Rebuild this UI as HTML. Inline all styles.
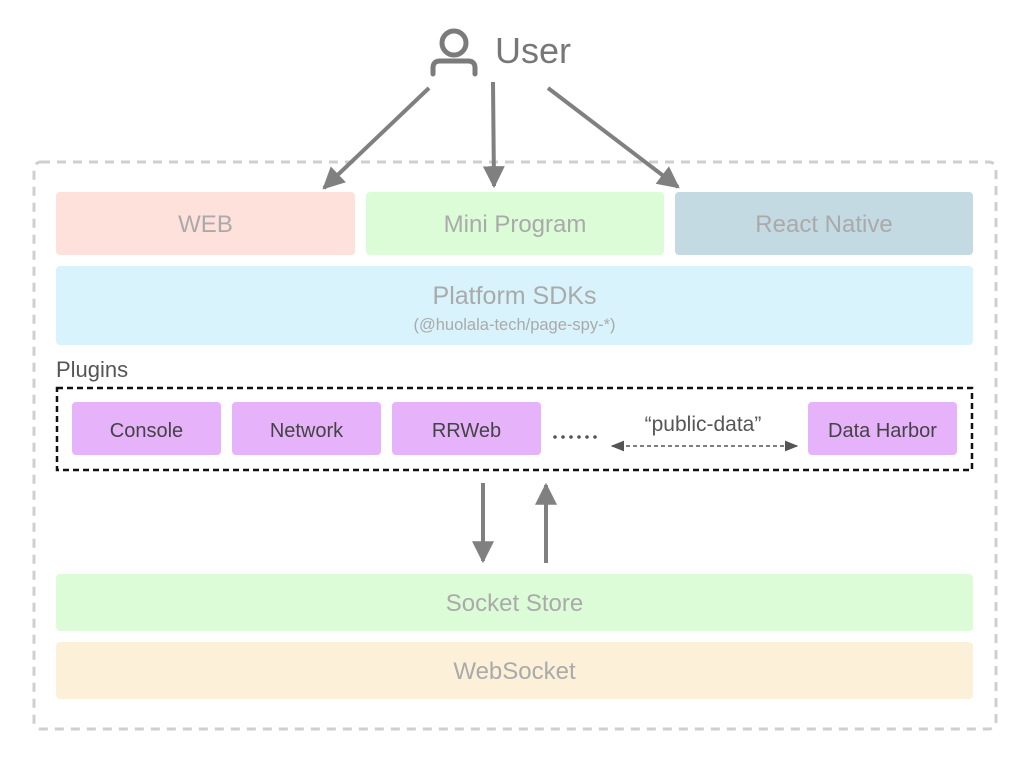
<!DOCTYPE html>
<html><head><meta charset="utf-8"><style>
html,body{margin:0;padding:0;background:#fff;}
svg{display:block;font-family:"Liberation Sans",sans-serif;}
</style></head><body>
<svg width="1030" height="764" viewBox="0 0 1030 764" xmlns="http://www.w3.org/2000/svg">
<defs>
<marker id="ah" viewBox="0 0 10 10" refX="9" refY="5" markerWidth="5.5" markerHeight="5.5" orient="auto-start-reverse" markerUnits="strokeWidth"><path d="M0,0 L10,5 L0,10 z" fill="#808080"/></marker>
<marker id="ahs" viewBox="0 0 10 10" refX="9" refY="5" markerWidth="9" markerHeight="9" orient="auto-start-reverse" markerUnits="strokeWidth"><path d="M0,1 L10,5 L0,9 z" fill="#555"/></marker>
</defs>
<rect x="34" y="162" width="962" height="567" rx="7" fill="none" stroke="#cfcfcf" stroke-width="3" stroke-dasharray="9,7"/>
<!-- user -->
<circle cx="454" cy="43" r="12" fill="none" stroke="#7b7b7b" stroke-width="5"/>
<path d="M433,74 V68 Q433,61 440,61 H468 Q475,61 475,68 V74" fill="none" stroke="#7b7b7b" stroke-width="5" stroke-linecap="round"/>
<text x="495" y="63" font-size="36" fill="#777">User</text>
<line x1="429" y1="88" x2="324" y2="188" stroke="#808080" stroke-width="4" marker-end="url(#ah)"/>
<line x1="493" y1="82" x2="494" y2="186" stroke="#808080" stroke-width="4" marker-end="url(#ah)"/>
<line x1="548" y1="88" x2="678" y2="187" stroke="#808080" stroke-width="4" marker-end="url(#ah)"/>
<!-- platforms -->
<rect x="56" y="192" width="299" height="63" rx="4" fill="#fde1da"/>
<text x="205.5" y="232" font-size="24" fill="#aaa" text-anchor="middle">WEB</text>
<rect x="366" y="192" width="298" height="63" rx="4" fill="#dcfcd8"/>
<text x="515" y="232" font-size="24" fill="#aaa" text-anchor="middle">Mini Program</text>
<rect x="675" y="192" width="298" height="63" rx="4" fill="#c3dae2"/>
<text x="824" y="232" font-size="24" fill="#aaa" text-anchor="middle">React Native</text>
<rect x="56" y="266" width="917" height="79" rx="4" fill="#d8f3fc"/>
<text x="514.5" y="304" font-size="25" fill="#aaa" text-anchor="middle">Platform SDKs</text>
<text x="514.5" y="330" font-size="16.5" fill="#aaa" text-anchor="middle">(@huolala-tech/page-spy-*)</text>
<!-- plugins -->
<text x="56" y="377" font-size="22" fill="#555">Plugins</text>
<rect x="57" y="388" width="915" height="82" fill="none" stroke="#111" stroke-width="2.5" stroke-dasharray="6,4"/>
<rect x="72" y="402" width="149" height="53" rx="4" fill="#e6b2fa"/>
<text x="146.5" y="437" font-size="20" fill="#444" text-anchor="middle">Console</text>
<rect x="232" y="402" width="149" height="53" rx="4" fill="#e6b2fa"/>
<text x="306.5" y="437" font-size="20" fill="#444" text-anchor="middle">Network</text>
<rect x="392" y="402" width="149" height="53" rx="4" fill="#e6b2fa"/>
<text x="466.5" y="437" font-size="20" fill="#444" text-anchor="middle">RRWeb</text>
<g fill="#555">
<circle cx="555" cy="437" r="1.8"/><circle cx="563" cy="437" r="1.8"/><circle cx="571" cy="437" r="1.8"/><circle cx="579" cy="437" r="1.8"/><circle cx="587" cy="437" r="1.8"/><circle cx="595" cy="437" r="1.8"/>
</g>
<text x="703" y="431" font-size="21" fill="#555" text-anchor="middle">“public-data”</text>
<line x1="612" y1="446" x2="797" y2="446" stroke="#555" stroke-width="1.5" stroke-dasharray="4,3" marker-start="url(#ahs)" marker-end="url(#ahs)"/>
<rect x="808" y="402" width="149" height="53" rx="4" fill="#e6b2fa"/>
<text x="882.5" y="437" font-size="20" fill="#444" text-anchor="middle">Data Harbor</text>
<!-- vertical arrows -->
<line x1="483" y1="483" x2="483" y2="561" stroke="#808080" stroke-width="4" marker-end="url(#ah)"/>
<line x1="546" y1="563" x2="546" y2="485" stroke="#808080" stroke-width="4" marker-end="url(#ah)"/>
<!-- bottom -->
<rect x="56" y="574" width="917" height="57" rx="4" fill="#dcfcd8"/>
<text x="514.5" y="611" font-size="24" fill="#aaa" text-anchor="middle">Socket Store</text>
<rect x="56" y="642" width="917" height="57" rx="4" fill="#fdf0d8"/>
<text x="514.5" y="679" font-size="24" fill="#aaa" text-anchor="middle">WebSocket</text>
</svg>
</body></html>
